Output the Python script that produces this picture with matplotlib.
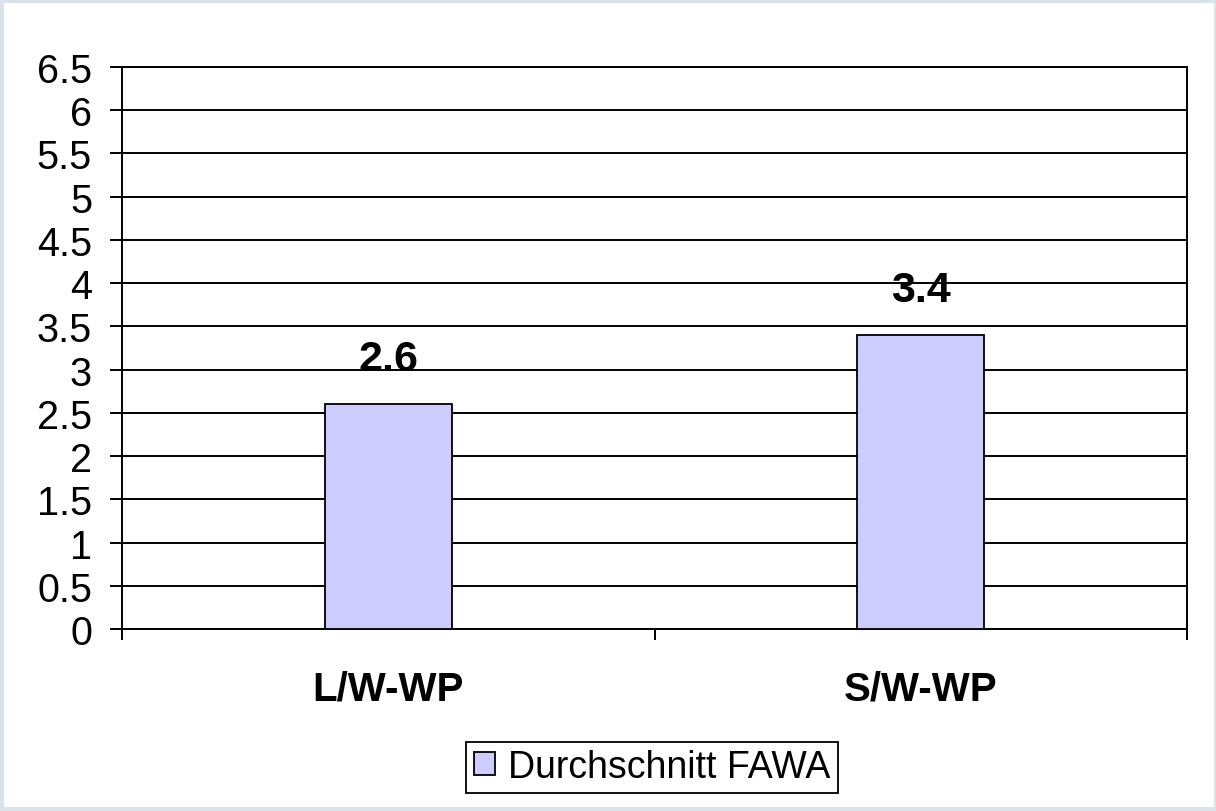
import matplotlib.pyplot as plt
from matplotlib.patches import Rectangle

categories = ['L/W-WP', 'S/W-WP']
values = [2.6, 3.4]
series_name = 'Durchschnitt FAWA'
yticks = [0, 0.5, 1, 1.5, 2, 2.5, 3, 3.5, 4, 4.5, 5, 5.5, 6, 6.5]

plt.rcParams['font.family'] = ['Liberation Sans', 'DejaVu Sans']

fig = plt.figure(figsize=(12.16, 8.12), dpi=100, facecolor='#d9e4ea')
fig.patches.append(Rectangle((4/1216, 4/812), 1 - 6/1216, 1 - 8/812,
                             transform=fig.transFigure, facecolor='white',
                             edgecolor='none', zorder=-10))

ax = fig.add_axes([122/1216, 1 - 630/812, (1187 - 122)/1216, (630 - 68)/812])
ax.set_facecolor('none')

x = range(len(categories))
bars = ax.bar(x, values, width=0.238, color='#ccccff', edgecolor='black',
              linewidth=1.3, label=series_name, zorder=3)

for xi, v in zip(x, values):
    ax.annotate(f'{v:.1f}', (xi, v), xytext=(0, 24.5), textcoords='offset points',
                ha='center', va='baseline', fontsize=31, fontweight='bold')

ax.set_ylim(0, 6.5)
ax.set_xlim(-0.5, len(categories) - 0.5)
ax.set_yticks(yticks)
ax.set_yticklabels([f'{t:g}' for t in yticks], fontsize=28.5)
ax.yaxis.grid(True, color='black', linewidth=1.4, zorder=1)
ax.set_axisbelow(True)

ax.set_xticks(list(x))
ax.set_xticklabels(categories, fontsize=29, fontweight='bold')
ax.set_xticks([i - 0.5 for i in range(len(categories) + 1)], minor=True)
ax.tick_params(axis='x', which='major', length=0, pad=29)
ax.tick_params(axis='x', which='minor', length=8, width=1.4)
ax.tick_params(axis='y', length=8.6, width=1.4, pad=13)

for side in ['left', 'bottom', 'right', 'top']:
    ax.spines[side].set_linewidth(1.4)

leg = fig.legend(loc='center', bbox_to_anchor=(652/1216, 1 - 768/812),
                 fontsize=27, frameon=True, fancybox=False,
                 handlelength=0.55, handleheight=0.55, handletextpad=0.35,
                 borderpad=0.2, borderaxespad=0)
leg.get_frame().set_edgecolor('black')
leg.get_frame().set_alpha(1)
leg.get_frame().set_linewidth(1.3)

fig.savefig('out.png', dpi=100, facecolor=fig.get_facecolor())
